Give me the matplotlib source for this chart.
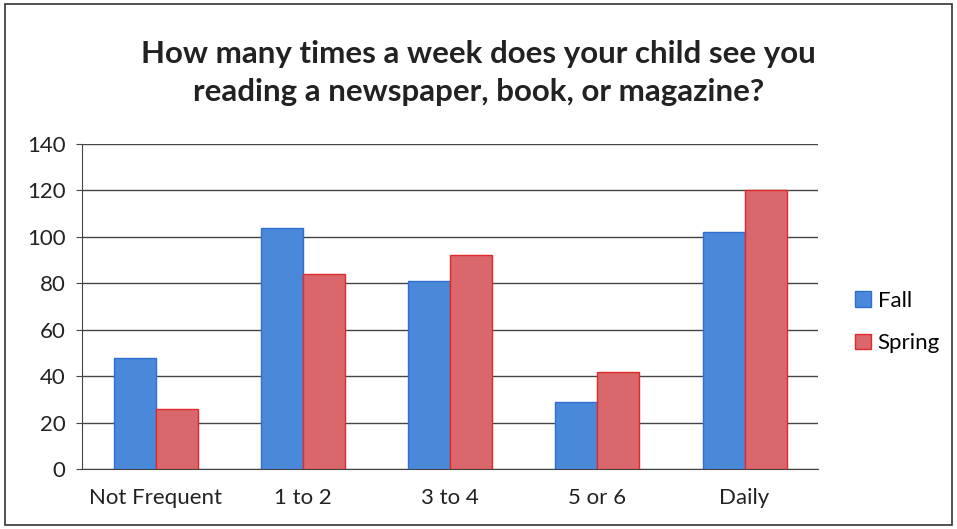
import numpy as np
import matplotlib.pyplot as plt
from matplotlib.patches import Rectangle

categories = ['Not Frequent', '1 to 2', '3 to 4', '5 or 6', 'Daily']
fall = [48, 104, 81, 29, 102]
spring = [26, 84, 92, 42, 120]

plt.rcParams['font.family'] = ['Lato', 'DejaVu Sans']

fig = plt.figure(figsize=(9.57, 5.29), dpi=100)
ax = fig.add_axes([0.0857, 0.1134, 0.7693, 0.6144])

x = np.arange(len(categories))
w = 0.285
ax.bar(x - w/2, fall, w, color='#4a88d9', edgecolor='#2f6fd0', linewidth=1, label='Fall', zorder=3)
ax.bar(x + w/2, spring, w, color='#d9676b', edgecolor='#e02a2a', linewidth=1, label='Spring', zorder=3)

ax.set_xlim(-0.5, 4.5)
ax.set_ylim(0, 140)
ax.set_yticks(range(0, 141, 20))
ax.set_xticks(x)
ax.set_xticklabels(categories)
ax.tick_params(axis='both', labelsize=16, colors='#222222')
ax.tick_params(axis='x', length=0, pad=14)
ax.tick_params(axis='y', length=4, pad=8, color='#444444')
ax.yaxis.grid(True, color='#444444', linewidth=1, zorder=0)
for s in ['top', 'right']:
    ax.spines[s].set_visible(False)
ax.spines['left'].set_color('#444444')
ax.spines['bottom'].set_color('#444444')

fig.text(0.5, 0.862, 'How many times a week does your child see you\nreading a newspaper, book, or magazine?',
         ha='center', va='center', fontsize=22.5, fontweight='bold', color='#222222', linespacing=1.45)

fig.legend(loc='center left', bbox_to_anchor=(0.873, 0.391), frameon=False, fontsize=16,
           handlelength=0.7, handleheight=0.7, handletextpad=0.3, labelspacing=1.0)

fig.patches.append(Rectangle((0.005, 0.008), 0.99, 0.985, transform=fig.transFigure,
                             fill=False, edgecolor='#333333', linewidth=1.2))

fig.savefig('out.png', dpi=100)
